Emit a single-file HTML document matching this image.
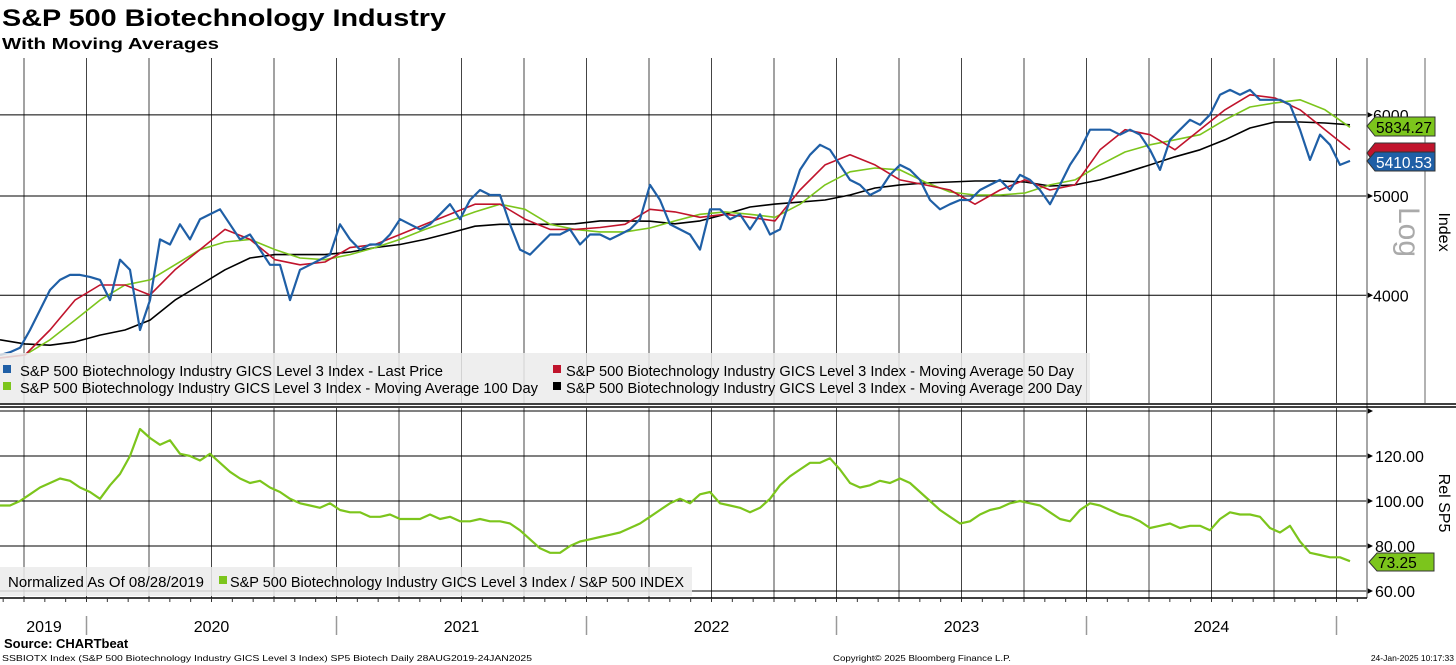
<!DOCTYPE html>
<html><head><meta charset="utf-8">
<style>
html,body{margin:0;padding:0;background:#fff;}
svg{display:block;font-family:"Liberation Sans","DejaVu Sans",sans-serif;}
</style></head>
<body>
<svg id="chart" width="1456" height="665" viewBox="0 0 1456 665" xmlns="http://www.w3.org/2000/svg">
<rect x="0" y="0" width="1456" height="665" fill="#fff"/>
<text x="2" y="26" font-size="24" font-weight="bold" textLength="444" lengthAdjust="spacingAndGlyphs">S&amp;P 500 Biotechnology Industry</text>
<text x="2" y="49" font-size="16" font-weight="bold" textLength="217" lengthAdjust="spacingAndGlyphs">With Moving Averages</text>
<g id="grid"></g>
<g id="series"></g>
<g id="overlay"></g>
</svg>
<script>
// ---- data ----
const priceStart = 2019.654;   // 28 Aug 2019
const priceStep = 0.04;        // years between samples
const lastPrice = [3497,3520,3555,3700,3870,4048,4141,4188,4188,4169,4141,3957,4333,4236,3700,3957,4535,4484,4692,4535,4746,4799,4853,4692,4535,4586,4433,4284,4284,3957,4236,4284,4333,4383,4692,4535,4433,4484,4484,4586,4746,4692,4638,4692,4799,4909,4746,4955,5068,5011,5011,4692,4433,4383,4484,4586,4586,4638,4484,4586,4586,4535,4586,4638,4746,5126,4955,4692,4638,4586,4433,4853,4853,4746,4799,4638,4799,4586,4638,4955,5302,5485,5610,5547,5362,5184,5126,5011,5068,5243,5362,5302,5184,4955,4853,4909,4955,4955,5068,5126,5184,5068,5243,5184,5068,4909,5126,5362,5547,5803,5803,5803,5738,5803,5738,5547,5302,5673,5803,5934,5868,6002,6277,6346,6277,6346,6207,6207,6207,6138,5803,5423,5738,5610,5362,5410.53];
const maStep = 0.1;
const ma50 = [3475,3498,3700,3957,4094,4094,4003,4236,4433,4638,4535,4333,4284,4311,4453,4484,4586,4692,4799,4909,4909,4746,4638,4638,4658,4692,4853,4824,4766,4799,4766,4728,5068,5362,5485,5362,5184,5126,5068,4909,5068,5184,5068,5126,5547,5803,5738,5547,5803,6069,6277,6232,6069,5803,5547];
const ma100 = [3475,3498,3619,3783,3957,4094,4141,4284,4433,4509,4535,4433,4350,4333,4383,4453,4535,4638,4728,4824,4909,4853,4692,4638,4612,4612,4653,4728,4799,4824,4799,4766,4909,5126,5280,5325,5302,5160,5045,5011,5011,5034,5126,5184,5362,5520,5610,5673,5738,5934,6107,6164,6207,6069,5834.27];
const ma200 = [3619,3586,3576,3602,3658,3700,3783,3957,4094,4236,4350,4383,4383,4383,4408,4453,4484,4535,4601,4672,4692,4692,4692,4697,4728,4728,4725,4697,4728,4799,4878,4910,4932,4955,5011,5091,5126,5148,5160,5171,5171,5160,5114,5126,5184,5269,5362,5460,5547,5673,5826,5905,5905,5891,5868];
const relSP5 = [98,98,100,103,106,108,110,109,106,104,101,107,112,120,132,128,125,127,121,120,118,121,117,113,110,108,109,106,104,101,99,98,97,99,96,95,95,93,93,94,92,92,92,94,92,93,91,91,92,91,91,90,87,83,79,77,77,80,82,83,84,85,86,88,90,93,96,99,101,99,103,104,99,98,97,95,97,101,107,111,114,117,117,119,114,108,106,107,109,108,110,108,104,100,96,93,90,91,94,96,97,99,100,99,98,95,92,91,96,99,98,96,94,93,91,88,89,90,88,89,89,87,92,95,94,94,93,88,86,89,82,77,76,75,75,73.25];
const priceTicks = [4000,5000,6000];
const relTicks = [60,80,100,120,140];
const relTickLabels = ["60.00","80.00","100.00","120.00",""];
const yearLabels = ["2019","2020","2021","2022","2023","2024"];
const yearLabelDates = [2019.83,2020.5,2021.5,2022.5,2023.5,2024.5];

// ---- scales ----
const PLOT_R = 1367;
function xS(t){ return 86.5 + 250*(t-2020); }
function yP(v){ return 196 - 445*Math.log(v/5000); }
function yR(v){ return 501 - 2.25*(v-100); }
const NS = "http://www.w3.org/2000/svg";
function mk(tag, attrs, parent){
  const e = document.createElementNS(NS, tag);
  for (const k in attrs) e.setAttribute(k, attrs[k]);
  parent.appendChild(e);
  return e;
}
const grid = document.getElementById('grid');
const series = document.getElementById('series');
const overlay = document.getElementById('overlay');

// vertical quarterly gridlines
for (let t = 2019.75; t <= 2025.001; t += 0.25){
  const x = xS(t);
  const l1 = mk('line',{x1:x,x2:x,y1:58,y2:403,stroke:'#444','stroke-width':1},grid);
  
  
  const l2 = mk('line',{x1:x,x2:x,y1:408,y2:598,stroke:'#444','stroke-width':1},grid);
  
  
}
// price horizontal gridlines + labels
priceTicks.forEach(v=>{
  const y = yP(v);
  const l = mk('line',{x1:0,x2:PLOT_R,y1:y,y2:y,stroke:'#000','stroke-width':1},grid);
  
  
  const a = mk('path',{d:`M${PLOT_R} ${y-3}L${PLOT_R+6} ${y}L${PLOT_R} ${y+3}Z`,fill:'#000'},grid);
  
  
  const t = mk('text',{x:1373,y:y+6,'font-size':16,fill:'#000'},grid);
  t.textContent = String(v);
  
  
});
// rel gridlines + labels
relTicks.forEach((v,i)=>{
  const y = yR(v);
  const l = mk('line',{x1:0,x2:PLOT_R,y1:y,y2:y,stroke:'#000','stroke-width':1},grid);
  
  
  const a = mk('path',{d:`M${PLOT_R} ${y-3}L${PLOT_R+6} ${y}L${PLOT_R} ${y+3}Z`,fill:'#000'},grid);
  
  
  if (relTickLabels[i]){
    const t = mk('text',{x:1375,y:y+6,'font-size':16,fill:'#000'},grid);
    t.textContent = relTickLabels[i];
    
    
  }
});
// axes frame lines
[[PLOT_R,58,PLOT_R,598,'#888'],[1425,58,1425,403,'#999']].forEach(c=>{
  const l = mk('line',{x1:c[0],y1:c[1],x2:c[2],y2:c[3],stroke:c[4],'stroke-width':1.5},grid);
  
  
});
// x axis with monthly ticks
{
  const l = mk('line',{x1:0,x2:PLOT_R,y1:598,y2:598,stroke:'#000','stroke-width':1.5},grid);
  
  
  for (let m = 0; m < 66; m++){
    const t = 2019 + 8/12 + m/12;
    const x = xS(t);
    if (x < 0 || x > PLOT_R) continue;
    const tk = mk('line',{x1:x,x2:x,y1:598,y2:602,stroke:'#333','stroke-width':1},grid);
    
    
  }
  for (let yr = 2020; yr <= 2025; yr++){
    const x = xS(yr);
    const s = mk('line',{x1:x,x2:x,y1:616,y2:635,stroke:'#999','stroke-width':1.5},grid);
    
    
  }
  yearLabels.forEach((lab,i)=>{
    const t = mk('text',{x:xS(yearLabelDates[i]),y:632,'font-size':16,'text-anchor':'middle',fill:'#000'},grid);
    t.textContent = lab;
    
    
  });
}
// double divider
[404,407].forEach(y=>{
  const l = mk('line',{x1:0,x2:1456,y1:y,y2:y,stroke:'#000','stroke-width':1.5},grid);
  
  
});

// ---- series ----
function line(vals, start, step, yf, color, w, name){
  const pts = vals.map((v,i)=> xS(start+i*step).toFixed(1)+','+yf(v).toFixed(1)).join(' ');
  const p = mk('polyline',{points:pts,fill:'none',stroke:color,'stroke-width':w,'stroke-linejoin':'round'},series);
  
  
}
line(ma200, priceStart, maStep, yP, '#000', 1.6, 'ma200-line');
line(ma100, priceStart, maStep, yP, '#7cc51c', 1.6, 'ma100-line');
line(ma50, priceStart, maStep, yP, '#c0142c', 1.6, 'ma50-line');
line(lastPrice, priceStart, priceStep, yP, '#1f5fa6', 2.2, 'last-price-line');
line(relSP5, priceStart, priceStep, yR, '#7cc51c', 2.2, 'rel-sp5-line');
</script>
<svg width="0" height="0" style="position:absolute"></svg>
<script>
const ov = document.getElementById('overlay');
ov.innerHTML = `
<rect x="0" y="353" width="1090" height="50" fill="#ebebeb" fill-opacity="0.85"/>
<rect x="3" y="365" width="8" height="8" fill="#1f5fa6"/>
<text x="20" y="376" font-size="14.5" textLength="423" lengthAdjust="spacingAndGlyphs">S&amp;P 500 Biotechnology Industry GICS Level 3 Index - Last Price</text>
<rect x="3" y="382" width="8" height="8" fill="#7cc51c"/>
<text x="20" y="393" font-size="14.5" textLength="518" lengthAdjust="spacingAndGlyphs">S&amp;P 500 Biotechnology Industry GICS Level 3 Index - Moving Average 100 Day</text>
<rect x="553" y="365" width="8" height="8" fill="#c0142c"/>
<text x="566" y="376" font-size="14.5" textLength="508" lengthAdjust="spacingAndGlyphs">S&amp;P 500 Biotechnology Industry GICS Level 3 Index - Moving Average 50 Day</text>
<rect x="553" y="382" width="8" height="8" fill="#000"/>
<text x="566" y="393" font-size="14.5" textLength="516" lengthAdjust="spacingAndGlyphs">S&amp;P 500 Biotechnology Industry GICS Level 3 Index - Moving Average 200 Day</text>
<rect x="0" y="567" width="692" height="29" fill="#ebebeb" fill-opacity="0.85"/>
<text x="8" y="587" font-size="14.5" textLength="196" lengthAdjust="spacingAndGlyphs">Normalized As Of 08/28/2019</text>
<rect x="219" y="576" width="8" height="8" fill="#7cc51c"/>
<text x="230" y="587" font-size="14.5" textLength="454" lengthAdjust="spacingAndGlyphs">S&amp;P 500 Biotechnology Industry GICS Level 3 Index / S&amp;P 500 INDEX</text>
<path d="M1367 153 L1375 143 L1435 143 L1435 164 L1375 164 Z" fill="#c0142c" stroke="#333" stroke-width="1"/>
<path d="M1367 126 L1375 117 L1435 117 L1435 136 L1375 136 Z" fill="#7cc51c" stroke="#333" stroke-width="1"/>
<text x="1376" y="133" font-size="15.5" fill="#000">5834.27</text>
<path d="M1367 161 L1375 152 L1435 152 L1435 171 L1375 171 Z" fill="#1f5fa6" stroke="#333" stroke-width="1"/>
<text x="1376" y="168" font-size="15.5" fill="#fff">5410.53</text>
<path d="M1369 562 L1377 553 L1434 553 L1434 571 L1377 571 Z" fill="#7cc51c" stroke="#333" stroke-width="1"/>
<text x="1378" y="568" font-size="15.5" fill="#000">73.25</text>
<text transform="translate(1399,232) rotate(90)" font-size="30" fill="#aaa" text-anchor="middle">Log</text>
<text transform="translate(1439,232) rotate(90)" font-size="16" fill="#000" text-anchor="middle">Index</text>
<text transform="translate(1439,503) rotate(90)" font-size="16" fill="#000" text-anchor="middle">Rel SP5</text>
<text x="4" y="648" font-size="13" font-weight="bold">Source: CHARTbeat</text>
<text x="2" y="661" font-size="8.5" textLength="530" lengthAdjust="spacingAndGlyphs">SSBIOTX Index (S&amp;P 500 Biotechnology Industry GICS Level 3 Index) SP5 Biotech  Daily 28AUG2019-24JAN2025</text>
<text x="833" y="661" font-size="8.5" textLength="178" lengthAdjust="spacingAndGlyphs">Copyright© 2025 Bloomberg Finance L.P.</text>
<text x="1454" y="661" font-size="8.5" text-anchor="end">24-Jan-2025 10:17:33</text>
`;
</script>
</body></html>
